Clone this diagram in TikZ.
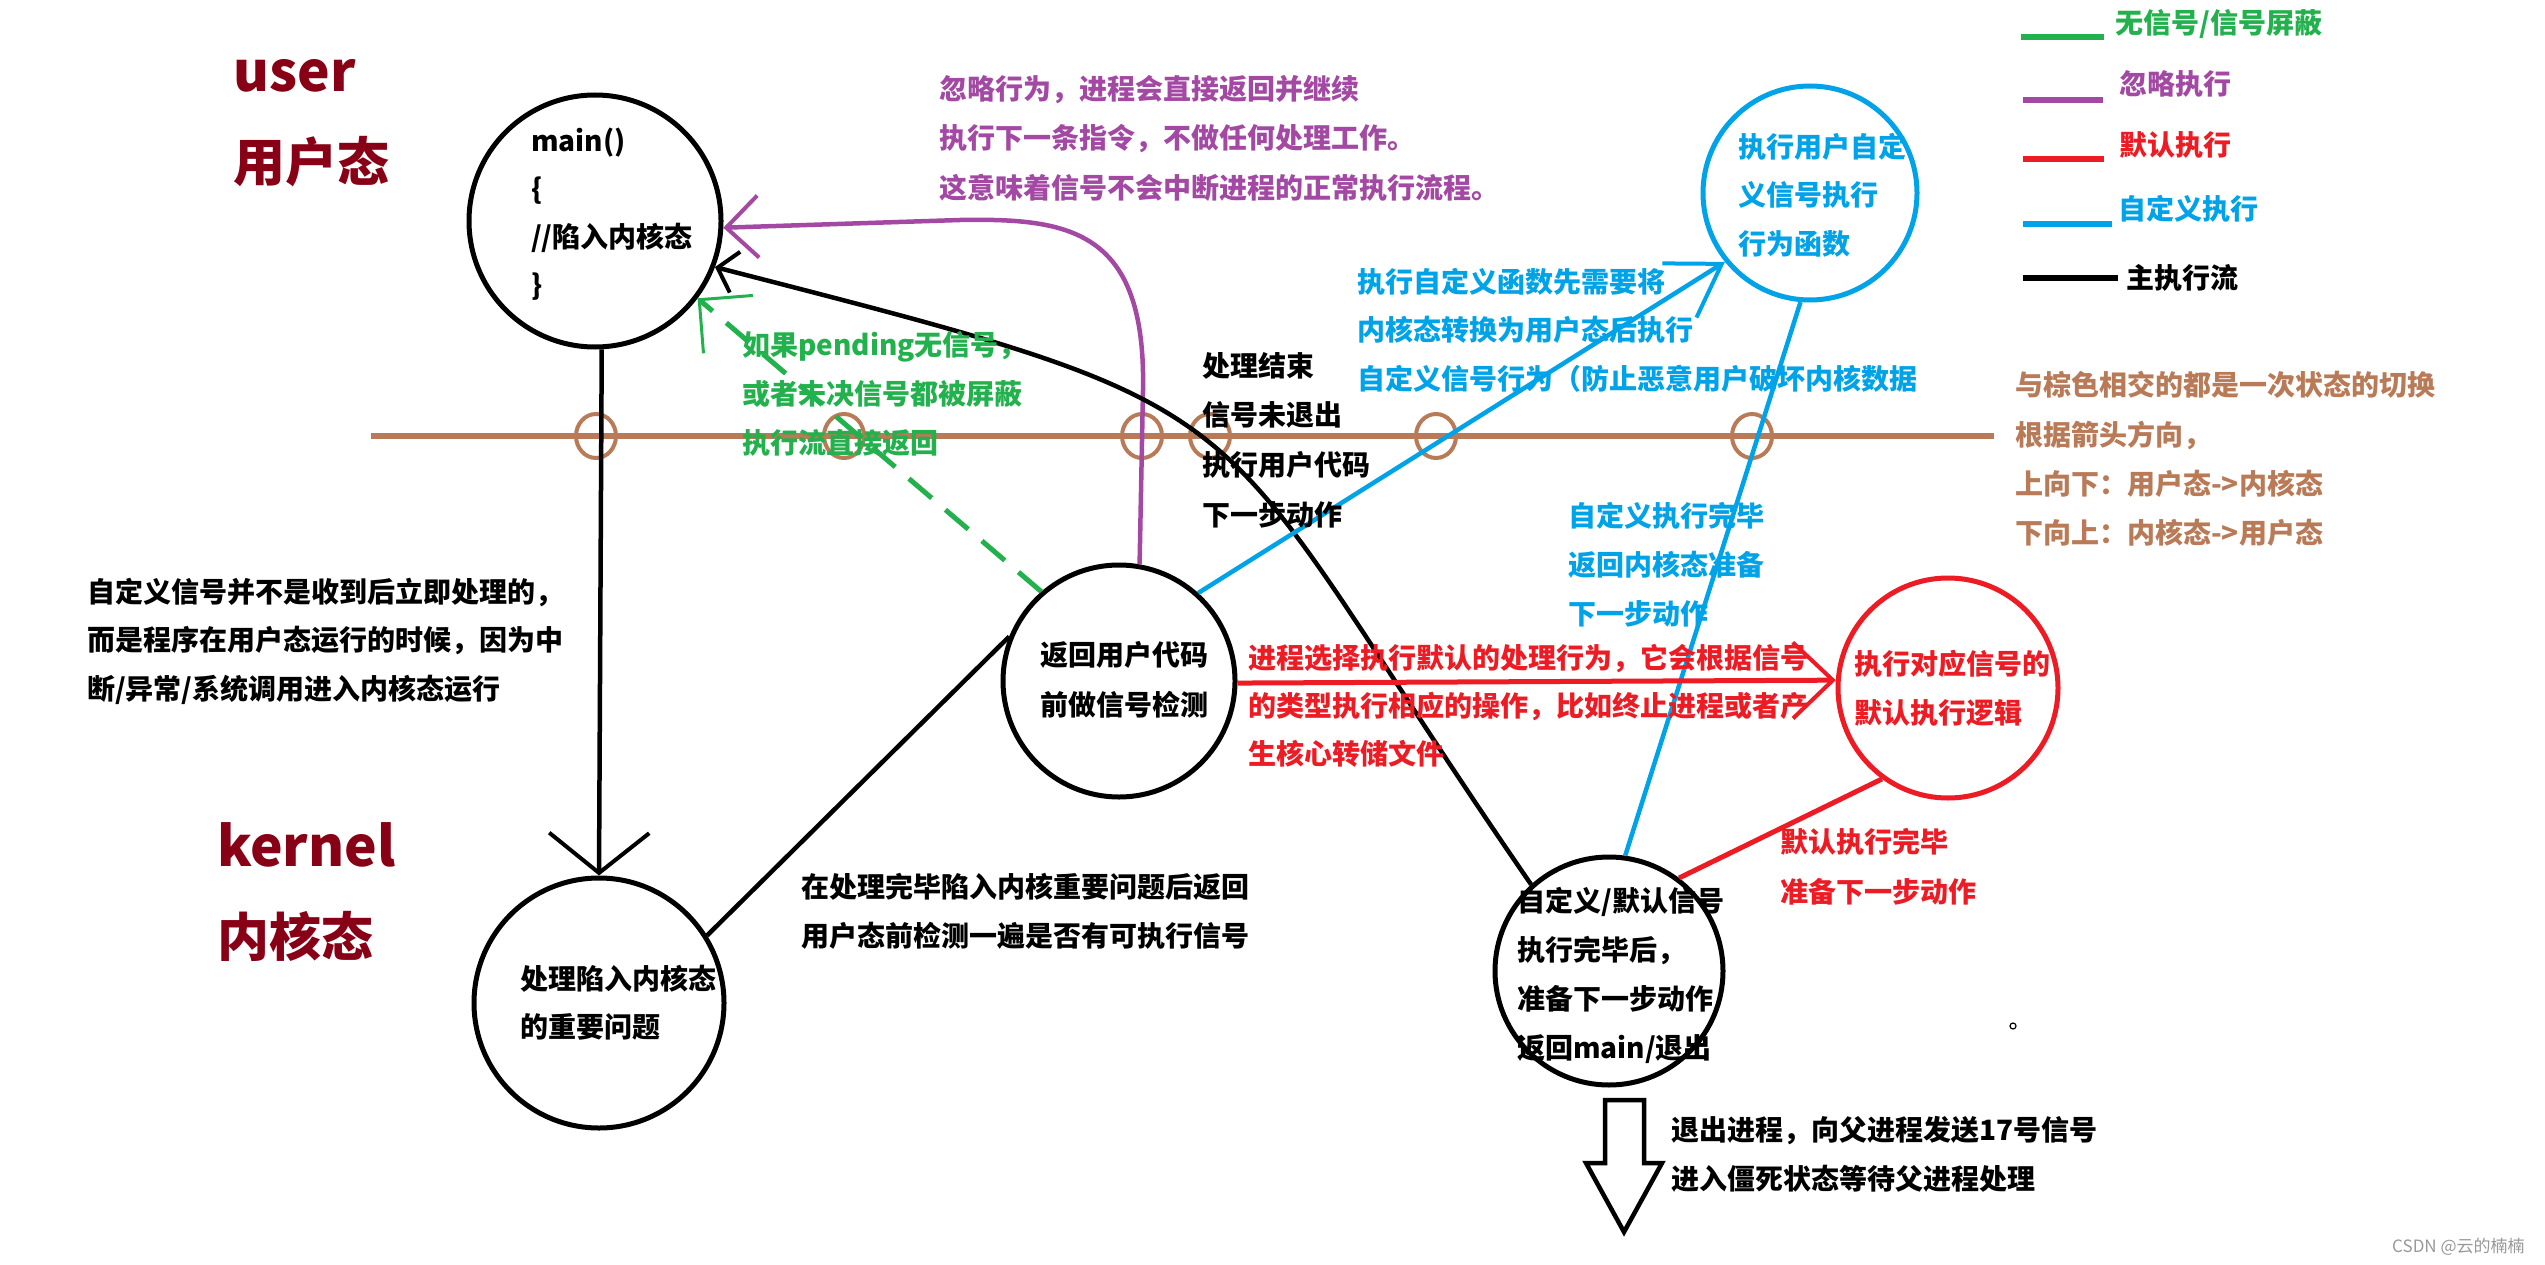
\documentclass[tikz,border=0pt]{standalone}
\usepackage{fontspec}
\setmainfont{Noto Sans CJK SC}
\usetikzlibrary{arrows.meta,shapes.geometric}
\definecolor{pdred}{HTML}{880015}
\definecolor{pgreen}{HTML}{22B14C}
\definecolor{ppurple}{HTML}{A349A4}
\definecolor{pred}{HTML}{ED1C24}
\definecolor{pblue}{HTML}{00A2E8}
\definecolor{pbrown}{HTML}{B97A57}
\begin{document}
\begin{tikzpicture}[x=1pt,y=-1pt,
  circ/.style={circle,draw,line width=5pt,inner sep=0pt,minimum size=#1},
  txt/.style={inner sep=0pt,anchor=west,align=left,font=\fontsize{28}{#1}\selectfont\bfseries},
  txt/.default=49,
  title/.style={inner sep=0pt,text=pdred,font=\fontsize{55}{60}\selectfont\bfseries},
  bcirc/.style={ellipse,draw=pbrown,line width=4pt,inner sep=0pt,minimum width=40pt,minimum height=44pt},
  blk/.style={draw=black,line width=4.5pt},
  pur/.style={draw=ppurple,line width=4.5pt},
  blu/.style={draw=pblue,line width=4.5pt},
  rd/.style={draw=pred,line width=5pt},
  grn/.style={draw=pgreen,line width=5pt,dash pattern=on 30pt off 18pt},
  leg/.style={line width=6pt}
]
\fill[white] (0,0) rectangle (2545,1265);
\useasboundingbox (0,0) rectangle (2545,1265);

% titles
\node[title,anchor=base west] (user) at (233,92) {user};
\node[title,anchor=west,font=\fontsize{52}{60}\selectfont\bfseries] (userzh) at (233,162) {用户态};
\node[title,anchor=base west] (kernel) at (217,866) {kernel};
\node[title,anchor=west,font=\fontsize{52}{60}\selectfont\bfseries] (kernelzh) at (217,936) {内核态};

% circles
\node[circ=252pt] (main) at (595,221) {};
\node[circ=250pt] (kern) at (599,1003) {};
\node[circ=232pt] (ret) at (1119,681) {};
\node[circ=214pt,draw=pblue] (bc) at (1810,193) {};
\node[circ=220pt,draw=pred] (rc) at (1948,688) {};
\node[circ=228pt] (bot) at (1609,971) {};

% circle texts
\node[txt=48] (maint) at (531,214) {main()\\\{\\//陷入内核态\\\}};
\node[txt=48] (kernt) at (520,1003) {处理陷入内核态\\的重要问题};
\node[txt=50] (rett) at (1040,680) {返回用户代码\\前做信号检测};
\node[txt=48.5,text=pblue] (bct) at (1738,195) {执行用户自定\\义信号执行\\行为函数};
\node[txt=49,text=pred] (rct) at (1854,688) {执行对应信号的\\默认执行逻辑};
\node[txt=49] (bott) at (1517,975) {自定义/默认信号\\执行完毕后，\\准备下一步动作\\返回main/退出};

% brown boundary line and crossing marks
\coordinate (bl) at (371,436);
\coordinate (br) at (1994,436);
\draw[draw=pbrown,line width=6pt] (bl) -- (br);
\foreach \n/\x in {b1/596,b2/844,b3/1142,b4/1210,b5/1436,b6/1752}
  \node[bcirc] (\n) at (\x,436) {};

% connectors
\draw[blk,-{Straight Barb[length=40pt,width=100pt,line width=4pt]}] (main.-87) -- (kern.north);
\draw[blk] (kern.32) -- (ret.158);
\draw[grn,-{Straight Barb[length=38pt,width=76pt,line width=3pt]}] (ret.131) -- (main.-37);
\draw[pur,-{Straight Barb[length=32pt,width=62pt,line width=4pt]}] (ret.80) -- (1143,390)
  .. controls (1146,230) and (1070,218) .. (960,220) -- (main.-3);
\draw[blk,-{Straight Barb[length=18pt,width=42pt,line width=4pt]}] (bot.132)
  .. controls (1190,390) and (1299,417) .. (main.-21);
\draw[blu,-{Straight Barb[length=50pt,width=64pt,line width=4pt]}] (ret.48) -- (bc.219);
\draw[blu] (bc.265) -- (bot.82);
\draw[rd,-{Straight Barb[length=40pt,width=76pt,line width=4pt]}] (ret.-1) -- (rc.176);
\draw[rd] (rc.234) -- (bot.53);

% big hollow arrow (exit)
\draw[line width=4.5pt,line join=miter] (1605,1100) -- (1644,1100) -- (1644,1163) -- (1662,1163)
  -- (1624,1232) -- (1586,1163) -- (1605,1163) -- cycle;

% labels
\node[txt=49.5,text=ppurple] (purt) at (939,138) {忽略行为，进程会直接返回并继续\\执行下一条指令，不做任何处理工作。\\这意味着信号不会中断进程的正常执行流程。};
\node[txt=49,text=pgreen] (grnt) at (742,394) {如果pending无信号，\\或者未决信号都被屏蔽\\执行流直接返回};
\node[txt=49.7] (endt) at (1202,440) {处理结束\\信号未退出\\执行用户代码\\下一步动作};
\node[txt=48.5,text=pblue] (bluA) at (1357,330) {执行自定义函数先需要将\\内核态转换为用户态后执行\\自定义信号行为（防止恶意用户破坏内核数据};
\node[txt=49,text=pblue] (bluB) at (1568,565) {自定义执行完毕\\返回内核态准备\\下一步动作};
\node[txt=48,text=pred] (redA) at (1248,706) {进程选择执行默认的处理行为，它会根据信号\\的类型执行相应的操作，比如终止进程或者产\\生核心转储文件};
\node[txt=50,text=pred] (redB) at (1780,867) {默认执行完毕\\准备下一步动作};
\node[txt=49] (kernA) at (801,911) {在处理完毕陷入内核重要问题后返回\\用户态前检测一遍是否有可执行信号};
\node[txt=48.5] (leftA) at (87,641) {自定义信号并不是收到后立即处理的，\\而是程序在用户态运行的时候，因为中\\断/异常/系统调用进入内核态运行};
\node[txt=49] (exitt) at (1671,1154) {退出进程，向父进程发送17号信号\\进入僵死状态等待父进程处理};
\node[txt=49.3,text=pbrown] (brownt) at (2015,459) {与棕色相交的都是一次状态的切换\\根据箭头方向，\\上向下：用户态->内核态\\下向上：内核态->用户态};

% legend
\coordinate (g1) at (2021,37);  \coordinate (g2) at (2104,37);
\coordinate (p1) at (2023,100); \coordinate (p2) at (2103,100);
\coordinate (r1) at (2023,159); \coordinate (r2) at (2104,159);
\coordinate (u1) at (2023,224); \coordinate (u2) at (2112,224);
\coordinate (k1) at (2023,278); \coordinate (k2) at (2118,278);
\draw[leg,pgreen] (g1) -- (g2);
\draw[leg,ppurple] (p1) -- (p2);
\draw[leg,pred] (r1) -- (r2);
\draw[leg,pblue] (u1) -- (u2);
\draw[leg,black] (k1) -- (k2);
\node[txt,text=pgreen] (lg1) at (2115,24) {无信号/信号屏蔽};
\node[txt,text=ppurple] (lg2) at (2119,84) {忽略执行};
\node[txt,text=pred] (lg3) at (2119,145) {默认执行};
\node[txt,text=pblue] (lg4) at (2118,209) {自定义执行};
\node[txt] (lg5) at (2126,278) {主执行流};

% small mark and watermark
\node[circle,draw,line width=1.2pt,inner sep=0pt,minimum size=6pt] (dot) at (2013,1026) {};
\node[inner sep=0pt,anchor=west,text=black!40,font=\fontsize{17}{17}\selectfont] (wm) at (2392,1247) {CSDN @云的楠楠};
\end{tikzpicture}
\end{document}
